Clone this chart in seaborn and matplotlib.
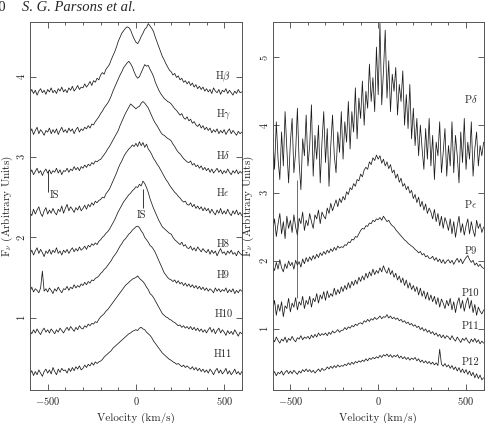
import numpy as np
import seaborn as sns
import matplotlib.pyplot as plt
from matplotlib.ticker import MultipleLocator

sns.set_theme(style="ticks")
plt.rcParams["font.family"] = ["cmr10", "DejaVu Serif"]
plt.rcParams["axes.formatter.use_mathtext"] = True
plt.rcParams["mathtext.fontset"] = "cm"

# velocity grid of the spectra (km/s), 10 km/s bins
velocity = np.arange(-600, 601, 10)

# Balmer lines (left panel)
h_beta = [3.80, 3.84, 3.79, 3.83, 3.77, 3.82, 3.85, 3.80, 3.83, 3.78,
          3.84, 3.81, 3.86, 3.80, 3.83, 3.79, 3.85, 3.82, 3.87, 3.81,
          3.84, 3.80, 3.86, 3.83, 3.88, 3.82, 3.85, 3.89, 3.84, 3.87,
          3.86, 3.91, 3.87, 3.90, 3.94, 3.89, 3.95, 3.93, 3.98, 3.96,
          4.02, 4.05, 4.03, 4.09, 4.12, 4.15, 4.21, 4.26, 4.31, 4.37,
          4.44, 4.49, 4.54, 4.57, 4.60, 4.62, 4.61, 4.58, 4.52, 4.47,
          4.43, 4.41, 4.45, 4.50, 4.54, 4.59, 4.61, 4.66, 4.63, 4.60,
          4.56, 4.49, 4.43, 4.37, 4.31, 4.25, 4.21, 4.16, 4.12, 4.08,
          4.06, 4.02, 4.04, 3.99, 4.01, 3.96, 3.98, 3.93, 3.95, 3.91,
          3.94, 3.89, 3.92, 3.87, 3.90, 3.85, 3.88, 3.84, 3.87, 3.82,
          3.85, 3.81, 3.84, 3.79, 3.86, 3.82, 3.80, 3.84, 3.78, 3.83,
          3.81, 3.85, 3.79, 3.83, 3.80, 3.77, 3.82, 3.79, 3.84, 3.80,
          3.81]
h_gamma = [3.30, 3.35, 3.28, 3.33, 3.37, 3.29, 3.34, 3.31, 3.27, 3.33,
           3.31, 3.36, 3.29, 3.34, 3.30, 3.35, 3.28, 3.33, 3.37, 3.31,
           3.34, 3.30, 3.36, 3.32, 3.35, 3.29, 3.34, 3.37, 3.31, 3.35,
           3.33, 3.37, 3.35, 3.39, 3.36, 3.41, 3.40, 3.44, 3.47, 3.50,
           3.54, 3.57, 3.61, 3.64, 3.67, 3.71, 3.76, 3.82, 3.87, 3.92,
           3.97, 4.02, 4.06, 4.11, 4.14, 4.17, 4.19, 4.16, 4.12, 4.06,
           4.01, 3.98, 4.00, 4.05, 4.10, 4.15, 4.13, 4.14, 4.09, 4.05,
           4.00, 3.93, 3.88, 3.83, 3.79, 3.76, 3.73, 3.71, 3.69, 3.68,
           3.66, 3.63, 3.60, 3.58, 3.55, 3.52, 3.54, 3.49, 3.47, 3.50,
           3.45, 3.47, 3.42, 3.44, 3.40, 3.38, 3.41, 3.36, 3.39, 3.34,
           3.37, 3.33, 3.36, 3.30, 3.34, 3.31, 3.35, 3.29, 3.33, 3.30,
           3.34, 3.28, 3.32, 3.35, 3.29, 3.33, 3.30, 3.27, 3.32, 3.29,
           3.31]
h_delta = [2.79, 2.84, 2.78, 2.82, 2.86, 2.80, 2.83, 2.77, 2.82, 2.85,
           2.80, 2.84, 2.79, 2.83, 2.81, 2.86, 2.80, 2.84, 2.78, 2.83,
           2.82, 2.86, 2.81, 2.85, 2.83, 2.88, 2.84, 2.87, 2.83, 2.88,
           2.86, 2.90, 2.87, 2.91, 2.89, 2.93, 2.91, 2.95, 2.94, 2.96,
           2.97, 3.00, 3.03, 3.06, 3.10, 3.13, 3.17, 3.21, 3.25, 3.29,
           3.33, 3.39, 3.44, 3.49, 3.54, 3.58, 3.62, 3.66, 3.64, 3.62,
           3.60, 3.62, 3.63, 3.67, 3.69, 3.67, 3.64, 3.61, 3.56, 3.51,
           3.46, 3.42, 3.39, 3.35, 3.31, 3.28, 3.27, 3.25, 3.23, 3.22,
           3.20, 3.16, 3.13, 3.09, 3.06, 3.04, 3.01, 2.98, 2.96, 2.94,
           2.93, 2.95, 2.90, 2.92, 2.88, 2.90, 2.86, 2.89, 2.84, 2.87,
           2.83, 2.86, 2.81, 2.85, 2.80, 2.83, 2.86, 2.81, 2.84, 2.79,
           2.83, 2.80, 2.85, 2.81, 2.78, 2.83, 2.80, 2.84, 2.79, 2.82,
           2.80]
h_eps = [2.31, 2.27, 2.35, 2.29, 2.34, 2.38, 2.30, 2.26, 2.33, 2.37,
         2.29, 2.34, 2.30, 2.36, 2.31, 2.28, 2.35, 2.32, 2.39, 2.30,
         2.36, 2.41, 2.33, 2.38, 2.35, 2.31, 2.37, 2.34, 2.39, 2.33,
         2.36, 2.40, 2.35, 2.41, 2.38, 2.43, 2.40, 2.45, 2.43, 2.46,
         2.47, 2.50, 2.49, 2.54, 2.57, 2.60, 2.65, 2.70, 2.75, 2.80,
         2.86, 2.91, 2.95, 3.00, 3.04, 3.07, 3.10, 3.12, 3.15, 3.13,
         3.17, 3.13, 3.19, 3.14, 3.18, 3.12, 3.16, 3.10, 3.07, 3.03,
         2.98, 2.95, 2.91, 2.88, 2.84, 2.80, 2.76, 2.72, 2.69, 2.65,
         2.62, 2.59, 2.56, 2.54, 2.51, 2.49, 2.46, 2.44, 2.45, 2.41,
         2.40, 2.43, 2.38, 2.41, 2.36, 2.39, 2.35, 2.38, 2.33, 2.37,
         2.33, 2.36, 2.30, 2.35, 2.31, 2.28, 2.34, 2.30, 2.36, 2.29,
         2.33, 2.29, 2.35, 2.30, 2.27, 2.33, 2.29, 2.34, 2.28, 2.31,
         2.27]
h_8 = [1.79, 1.84, 1.78, 1.83, 1.87, 1.80, 1.85, 1.81, 1.76, 1.83,
       1.80, 1.85, 1.79, 1.84, 1.81, 1.87, 1.80, 1.83, 1.78, 1.84,
       1.81, 1.85, 1.80, 1.84, 1.87, 1.82, 1.86, 1.83, 1.88, 1.84,
       1.86, 1.89, 1.85, 1.90, 1.88, 1.92, 1.90, 1.93, 1.91, 1.95,
       1.97, 2.00, 2.02, 2.05, 2.07, 2.10, 2.14, 2.18, 2.22, 2.27,
       2.32, 2.36, 2.40, 2.44, 2.47, 2.50, 2.53, 2.55, 2.58, 2.60,
       2.63, 2.62, 2.66, 2.64, 2.70, 2.67, 2.62, 2.56, 2.48, 2.42,
       2.36, 2.31, 2.26, 2.21, 2.17, 2.13, 2.11, 2.09, 2.07, 2.05,
       2.04, 2.00, 1.97, 1.95, 1.93, 1.91, 1.94, 1.89, 1.91, 1.87,
       1.86, 1.89, 1.84, 1.87, 1.83, 1.88, 1.85, 1.82, 1.86, 1.83,
       1.81, 1.85, 1.79, 1.84, 1.80, 1.83, 1.77, 1.82, 1.86, 1.80,
       1.82, 1.78, 1.83, 1.80, 1.84, 1.79, 1.81, 1.77, 1.83, 1.80,
       1.78]
h_9 = [1.33, 1.38, 1.32, 1.36, 1.34, 1.31, 1.37, 1.58, 1.33, 1.36,
       1.32, 1.37, 1.34, 1.30, 1.36, 1.33, 1.38, 1.34, 1.31, 1.36,
       1.35, 1.39, 1.34, 1.38, 1.36, 1.41, 1.37, 1.40, 1.38, 1.42,
       1.40, 1.44, 1.41, 1.45, 1.43, 1.47, 1.46, 1.49, 1.50, 1.52,
       1.55, 1.57, 1.60, 1.62, 1.65, 1.68, 1.71, 1.75, 1.78, 1.81,
       1.85, 1.89, 1.92, 1.96, 1.98, 2.01, 2.04, 2.06, 2.09, 2.11,
       2.13, 2.14, 2.12, 2.08, 2.05, 2.00, 1.97, 1.94, 1.90, 1.88,
       1.85, 1.81, 1.76, 1.71, 1.66, 1.61, 1.56, 1.53, 1.50, 1.48,
       1.47, 1.45, 1.47, 1.43, 1.46, 1.42, 1.44, 1.40, 1.43, 1.39,
       1.42, 1.38, 1.41, 1.37, 1.40, 1.36, 1.39, 1.35, 1.38, 1.34,
       1.37, 1.33, 1.36, 1.34, 1.31, 1.37, 1.33, 1.36, 1.32, 1.35,
       1.33, 1.37, 1.31, 1.35, 1.32, 1.36, 1.30, 1.34, 1.31, 1.35,
       1.33]
h_10 = [0.84, 0.80, 0.85, 0.81, 0.86, 0.82, 0.79, 0.84, 0.87, 0.82,
        0.85, 0.81, 0.86, 0.83, 0.80, 0.85, 0.82, 0.87, 0.84, 0.81,
        0.85, 0.88, 0.84, 0.89, 0.86, 0.83, 0.88, 0.85, 0.90, 0.87,
        0.86, 0.90, 0.88, 0.92, 0.90, 0.93, 0.92, 0.95, 0.94, 0.98,
        1.01, 1.03, 1.05, 1.08, 1.10, 1.13, 1.16, 1.19, 1.22, 1.25,
        1.28, 1.31, 1.34, 1.37, 1.40, 1.42, 1.44, 1.46, 1.48, 1.49,
        1.50, 1.52, 1.49, 1.47, 1.45, 1.42, 1.38, 1.35, 1.30, 1.28,
        1.25, 1.21, 1.17, 1.13, 1.09, 1.05, 1.03, 1.01, 1.00, 0.98,
        0.97, 0.95, 0.94, 0.92, 0.90, 0.91, 0.88, 0.90, 0.87, 0.89,
        0.86, 0.89, 0.85, 0.88, 0.84, 0.87, 0.83, 0.86, 0.82, 0.85,
        0.81, 0.85, 0.88, 0.82, 0.86, 0.80, 0.84, 0.87, 0.81, 0.85,
        0.82, 0.78, 0.84, 0.80, 0.83, 0.79, 0.85, 0.81, 0.77, 0.82,
        0.80]
h_11 = [0.30, 0.34, 0.28, 0.33, 0.29, 0.35, 0.31, 0.27, 0.33, 0.36,
        0.31, 0.35, 0.30, 0.38, 0.33, 0.29, 0.36, 0.32, 0.37, 0.34,
        0.35, 0.31, 0.37, 0.33, 0.38, 0.34, 0.39, 0.36, 0.40, 0.35,
        0.37, 0.41, 0.38, 0.42, 0.40, 0.44, 0.41, 0.45, 0.43, 0.45,
        0.46, 0.48, 0.51, 0.53, 0.55, 0.57, 0.59, 0.62, 0.64, 0.66,
        0.68, 0.70, 0.72, 0.74, 0.76, 0.78, 0.80, 0.81, 0.83, 0.84,
        0.85, 0.84, 0.87, 0.88, 0.86, 0.85, 0.82, 0.80, 0.78, 0.75,
        0.71, 0.68, 0.65, 0.62, 0.59, 0.56, 0.54, 0.52, 0.50, 0.48,
        0.47, 0.45, 0.44, 0.42, 0.43, 0.41, 0.39, 0.41, 0.38, 0.40,
        0.38, 0.36, 0.39, 0.35, 0.38, 0.34, 0.37, 0.33, 0.36, 0.32,
        0.35, 0.31, 0.36, 0.33, 0.29, 0.34, 0.37, 0.31, 0.35, 0.30,
        0.33, 0.37, 0.30, 0.34, 0.29, 0.32, 0.36, 0.30, 0.33, 0.29,
        0.33]

# Paschen lines (right panel)
p_delta = [3.85, 3.35, 4.05, 3.50, 3.20, 3.90, 3.40, 4.20, 3.65, 3.15,
           3.75, 4.10, 3.30, 3.60, 4.25, 3.45, 3.05, 3.80, 3.55, 4.15,
           3.40, 3.70, 4.30, 3.25, 3.85, 3.50, 4.00, 3.15, 3.75, 4.20,
           3.45, 3.95, 3.10, 3.70, 4.15, 3.55, 3.30, 3.90, 3.60, 4.20,
           3.50, 4.05, 3.75, 4.35, 3.65, 4.20, 3.90, 4.55, 3.80, 4.40,
           4.10, 4.65, 4.00, 4.50, 4.25, 4.90, 4.35, 4.70, 4.20, 5.15,
           4.45, 5.50, 4.30, 4.80, 5.40, 4.40, 4.95, 4.20, 4.75, 4.50,
           4.85, 4.15, 4.60, 4.35, 4.80, 4.00, 4.45, 3.95, 4.60, 3.80,
           4.25, 3.70, 4.10, 3.55, 4.00, 3.65, 3.35, 3.95, 3.50, 4.10,
           3.40, 3.85, 3.20, 3.75, 3.55, 4.05, 3.30, 3.60, 3.95, 3.25,
           3.70, 3.40, 4.05, 3.30, 3.85, 3.55, 3.15, 3.90, 3.45, 4.10,
           3.35, 3.75, 3.50, 4.05, 3.25, 3.65, 3.90, 3.40, 3.70, 3.55,
           3.75]
p_eps = [2.45, 2.62, 2.36, 2.55, 2.70, 2.40, 2.58, 2.33, 2.66, 2.48,
         2.60, 2.42, 2.68, 2.50, 2.38, 2.63, 2.55, 2.72, 2.45, 2.60,
         2.52, 2.70, 2.58, 2.48, 2.68, 2.62, 2.75, 2.55, 2.72, 2.66,
         2.62, 2.78, 2.70, 2.85, 2.74, 2.82, 2.90, 2.80, 2.92, 2.86,
         2.95, 2.90, 3.02, 2.98, 3.08, 3.05, 3.14, 3.10, 3.20, 3.18,
         3.28, 3.24, 3.34, 3.38, 3.35, 3.46, 3.42, 3.52, 3.48, 3.56,
         3.50, 3.55, 3.44, 3.50, 3.40, 3.46, 3.36, 3.42, 3.30, 3.34,
         3.22, 3.28, 3.16, 3.22, 3.10, 3.14, 3.05, 3.10, 3.00, 3.04,
         2.92, 2.98, 2.86, 2.94, 2.80, 2.88, 2.75, 2.84, 2.70, 2.78,
         2.72, 2.62, 2.76, 2.58, 2.70, 2.52, 2.66, 2.48, 2.64, 2.56,
         2.45, 2.62, 2.40, 2.58, 2.35, 2.52, 2.66, 2.42, 2.55, 2.38,
         2.52, 2.62, 2.40, 2.58, 2.45, 2.36, 2.60, 2.48, 2.55, 2.42,
         2.50]
p_9 = [1.92, 1.86, 1.98, 1.88, 2.02, 1.90, 1.84, 1.96, 1.89, 2.00,
       1.93, 1.98, 1.88, 2.01, 1.94, 1.99, 1.91, 2.03, 1.96, 2.05,
       1.99, 2.06, 2.01, 2.08, 2.03, 2.10, 2.05, 2.12, 2.08, 2.14,
       2.10, 2.16, 2.12, 2.18, 2.14, 2.20, 2.16, 2.22, 2.19, 2.21,
       2.20, 2.24, 2.23, 2.28, 2.27, 2.32, 2.31, 2.36, 2.35, 2.40,
       2.45, 2.48, 2.47, 2.52, 2.51, 2.56, 2.55, 2.60, 2.58, 2.62,
       2.61, 2.64, 2.60, 2.66, 2.62, 2.58, 2.60, 2.55, 2.52, 2.50,
       2.46, 2.43, 2.40, 2.37, 2.34, 2.31, 2.29, 2.26, 2.24, 2.22,
       2.20, 2.17, 2.15, 2.12, 2.14, 2.09, 2.11, 2.06, 2.08, 2.04,
       2.04, 2.07, 2.01, 2.05, 1.99, 2.03, 1.97, 2.02, 1.96, 2.00,
       2.02, 1.97, 2.01, 1.95, 2.00, 2.04, 1.98, 2.03, 1.96, 2.01,
       2.05, 2.08, 2.02, 1.98, 2.01, 1.94, 1.97, 1.92, 1.95, 1.91,
       1.89]
p_10 = [1.28, 1.42, 1.20, 1.36, 1.26, 1.40, 1.18, 1.34, 1.30, 1.45,
        1.25, 1.38, 1.32, 1.46, 1.28, 1.40, 1.35, 1.48, 1.30, 1.42,
        1.36, 1.48, 1.32, 1.45, 1.40, 1.52, 1.38, 1.50, 1.44, 1.55,
        1.42, 1.56, 1.46, 1.52, 1.48, 1.60, 1.50, 1.58, 1.52, 1.62,
        1.55, 1.64, 1.58, 1.68, 1.60, 1.70, 1.64, 1.72, 1.66, 1.76,
        1.70, 1.78, 1.72, 1.82, 1.75, 1.84, 1.78, 1.88, 1.80, 1.86,
        1.82, 1.90, 1.84, 1.93, 1.86, 1.82, 1.90, 1.80, 1.86, 1.76,
        1.82, 1.72, 1.78, 1.68, 1.75, 1.64, 1.72, 1.60, 1.68, 1.58,
        1.64, 1.55, 1.62, 1.50, 1.60, 1.48, 1.56, 1.44, 1.54, 1.42,
        1.50, 1.40, 1.48, 1.36, 1.46, 1.32, 1.44, 1.38, 1.30, 1.42,
        1.34, 1.45, 1.28, 1.40, 1.24, 1.38, 1.46, 1.30, 1.42, 1.26,
        1.38, 1.46, 1.30, 1.42, 1.24, 1.36, 1.20, 1.32, 1.26, 1.22,
        1.28]
p_11 = [0.86, 0.81, 0.88, 0.83, 0.79, 0.85, 0.82, 0.88, 0.80, 0.86,
        0.83, 0.89, 0.84, 0.81, 0.87, 0.85, 0.90, 0.84, 0.88, 0.86,
        0.89, 0.85, 0.91, 0.87, 0.92, 0.88, 0.94, 0.90, 0.93, 0.91,
        0.94, 0.90, 0.95, 0.92, 0.97, 0.94, 0.96, 0.99, 0.95, 0.98,
        0.98, 1.02, 0.99, 1.03, 1.01, 1.05, 1.03, 1.07, 1.05, 1.08,
        1.09, 1.07, 1.12, 1.10, 1.14, 1.11, 1.15, 1.13, 1.17, 1.14,
        1.16, 1.19, 1.15, 1.18, 1.17, 1.21, 1.16, 1.19, 1.15, 1.17,
        1.14, 1.16, 1.12, 1.14, 1.10, 1.12, 1.08, 1.10, 1.06, 1.08,
        1.04, 1.06, 1.02, 1.04, 0.99, 1.02, 0.97, 1.00, 0.95, 0.98,
        0.93, 0.96, 0.91, 0.94, 0.89, 0.92, 0.87, 0.91, 0.86, 0.90,
        0.88, 0.84, 0.90, 0.85, 0.82, 0.88, 0.84, 0.80, 0.86, 0.83,
        0.87, 0.82, 0.79, 0.85, 0.81, 0.86, 0.80, 0.84, 0.78, 0.82,
        0.79]
p_12 = [0.33, 0.37, 0.31, 0.36, 0.34, 0.38, 0.32, 0.36, 0.39, 0.34,
        0.38, 0.34, 0.39, 0.36, 0.33, 0.38, 0.35, 0.40, 0.37, 0.41,
        0.37, 0.40, 0.36, 0.39, 0.35, 0.38, 0.41, 0.37, 0.42, 0.39,
        0.40, 0.44, 0.41, 0.45, 0.42, 0.46, 0.43, 0.47, 0.44, 0.46,
        0.45, 0.48, 0.46, 0.50, 0.47, 0.51, 0.48, 0.52, 0.50, 0.53,
        0.51, 0.54, 0.52, 0.56, 0.53, 0.57, 0.55, 0.58, 0.56, 0.59,
        0.57, 0.61, 0.58, 0.62, 0.60, 0.63, 0.59, 0.62, 0.58, 0.61,
        0.59, 0.62, 0.57, 0.60, 0.56, 0.59, 0.55, 0.58, 0.54, 0.57,
        0.55, 0.58, 0.53, 0.56, 0.51, 0.54, 0.50, 0.53, 0.49, 0.52,
        0.48, 0.51, 0.47, 0.50, 0.46, 0.70, 0.48, 0.45, 0.49, 0.44,
        0.47, 0.42, 0.46, 0.40, 0.44, 0.38, 0.43, 0.36, 0.41, 0.35,
        0.40, 0.33, 0.38, 0.31, 0.36, 0.28, 0.34, 0.27, 0.32, 0.25,
        0.28]

balmer = [h_beta, h_gamma, h_delta, h_eps, h_8, h_9, h_10, h_11]
balmer_names = [r"H$\beta$", r"H$\gamma$", r"H$\delta$", r"H$\epsilon$",
                "H8", "H9", "H10", "H11"]
balmer_label_y = [4.0, 3.53, 3.03, 2.56, 1.91, 1.53, 1.04, 0.54]

paschen = [p_delta, p_eps, p_9, p_10, p_11, p_12]
paschen_names = [r"P$\delta$", r"P$\epsilon$", "P9", "P10", "P11", "P12"]
paschen_label_y = [4.38, 2.84, 2.15, 1.53, 1.04, 0.51]

# interstellar line markers: velocity, top, bottom, text position
is_marks = [(-497, 2.82, 2.57, -463, 2.53), (40, 2.60, 2.36, 34, 2.28)]
# sky residual in right panel
sky_v, sky_top, sky_bottom = -460, 3.2, 1.45

fig = plt.figure(figsize=(4.88, 4.23), dpi=100)
ax1 = fig.add_axes([0.0615, 0.078, 0.434, 0.870])
ax2 = fig.add_axes([0.559, 0.078, 0.432, 0.870])

line_col = "#1a1a1a"
for flux in balmer:
    sns.lineplot(x=velocity, y=flux, ax=ax1, color=line_col, lw=0.55)
for flux in paschen:
    sns.lineplot(x=velocity, y=flux, ax=ax2, color=line_col, lw=0.55)

for name, y in zip(balmer_names, balmer_label_y):
    ax1.text(495, y, name, ha="center", va="center", fontsize=7.5)
for name, y in zip(paschen_names, paschen_label_y):
    ax2.text(525, y, name, ha="center", va="center", fontsize=7.5)

for v, top, bot, tx, ty in is_marks:
    ax1.vlines(v, bot, top, color=line_col, lw=0.6)
    ax1.text(tx, ty, "IS", ha="center", va="center", fontsize=7.5)
ax2.vlines(sky_v, sky_bottom, sky_top, color="#333333", lw=0.5)

for ax, top, lab_x in [(ax1, 4.68, -0.07), (ax2, 5.52, -0.08)]:
    ax.set_xlim(-600, 600)
    ax.set_ylim(0.1, top)
    ax.xaxis.set_major_locator(MultipleLocator(500))
    ax.xaxis.set_minor_locator(MultipleLocator(100))
    ax.yaxis.set_major_locator(MultipleLocator(1))
    ax.tick_params(which="both", direction="in", top=True, right=True,
                   labelsize=7.5, color="#444444", width=0.6)
    ax.tick_params(which="major", length=4)
    ax.tick_params(which="minor", length=2)
    ax.tick_params(axis="y", pad=2)
    for lab in ax.get_yticklabels():
        lab.set_rotation(90)
        lab.set_va("center")
    for sp in ax.spines.values():
        sp.set_color("#555555")
        sp.set_linewidth(0.7)
    ax.set_xlabel("Velocity (km/s)", fontsize=8)
    ax.set_ylabel(r"F$_\nu$ (Arbitrary Units)", fontsize=8)
    ax.yaxis.set_label_coords(lab_x, 0.5)

fig.text(-0.016, 0.982, "10", fontsize=10.5, ha="left", va="center",
         family=["Liberation Serif"])
fig.text(0.045, 0.982, "S. G. Parsons et al.", fontsize=10.5, ha="left",
         va="center", style="italic", family=["Liberation Serif"])

fig.savefig("out.png", dpi=100)
